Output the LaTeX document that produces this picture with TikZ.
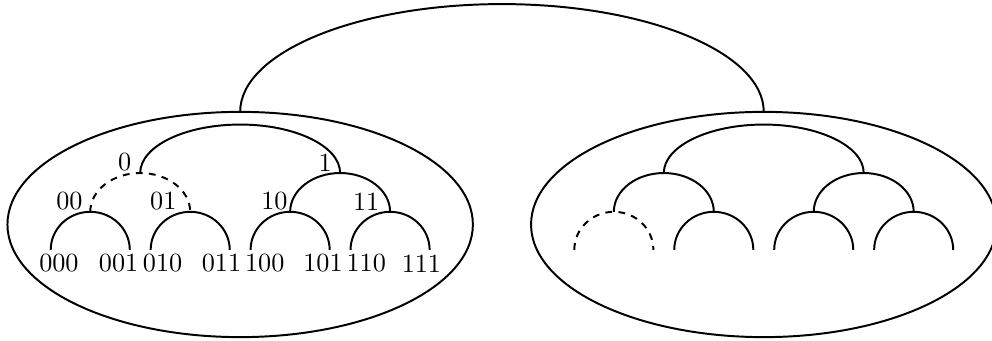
\documentclass[tikz,border=0pt]{standalone}
\usetikzlibrary{shapes.geometric}

\begin{document}
\begin{tikzpicture}[
    line/.style={line width=0.75pt},
    gap/.style={line width=0.75pt, dash pattern=on 2.6pt off 2.4pt},
    blob/.style={ellipse, draw, line width=0.75pt, outer sep=0pt, inner sep=0pt,
      minimum width=6.24cm, minimum height=3.02cm},
    lbl/.style={inner sep=0pt}
  ]
  \useasboundingbox (-3.22,-1.56) rectangle (10.08,3.01);

  % the two halves and the link between them
  \node[blob] (left) at (0,0) {};
  \node[blob] (right) at (7.02,0) {};
  \draw[line] (left.north) arc[start angle=180, end angle=0, x radius=3.51, y radius=1.445];

  % left tree, with its labels
  \coordinate (v0) at (-1.34,0.69);
  \coordinate (v1) at (1.34,0.69);
  \coordinate (v00) at (-2.01,0.17);
  \coordinate (v01) at (-0.67,0.17);
  \coordinate (v10) at (0.67,0.17);
  \coordinate (v11) at (2.01,0.17);
  \coordinate (v000) at (-2.54,-0.34);
  \coordinate (v010) at (-1.20,-0.34);
  \coordinate (v100) at (0.14,-0.34);
  \coordinate (v110) at (1.48,-0.34);
  \draw[line] (v0) arc[start angle=180, end angle=0, x radius=1.34, y radius=0.65];
  \draw[gap] (v00) arc[start angle=180, end angle=0, x radius=0.67, y radius=0.52];
  \draw[line] (v10) arc[start angle=180, end angle=0, x radius=0.67, y radius=0.52];
  \draw[line] (v000) arc[start angle=180, end angle=0, x radius=0.53, y radius=0.51];
  \draw[line] (v010) arc[start angle=180, end angle=0, x radius=0.53, y radius=0.51];
  \draw[line] (v100) arc[start angle=180, end angle=0, x radius=0.53, y radius=0.51];
  \draw[line] (v110) arc[start angle=180, end angle=0, x radius=0.53, y radius=0.51];
  \node[lbl] (t0) at (-1.55,0.84) {0};
  \node[lbl] (t1) at (1.14,0.83) {1};
  \node[lbl] (t00) at (-2.29,0.31) {00};
  \node[lbl] (t01) at (-1.03,0.31) {01};
  \node[lbl] (t10) at (0.46,0.31) {10};
  \node[lbl] (t11) at (1.69,0.31) {11};
  \node[lbl] (t000) at (-2.43,-0.52) {000};
  \node[lbl] (t001) at (-1.63,-0.52) {001};
  \node[lbl] (t010) at (-1.04,-0.52) {010};
  \node[lbl] (t011) at (-0.25,-0.52) {011};
  \node[lbl] (t100) at (0.33,-0.52) {100};
  \node[lbl] (t101) at (1.11,-0.52) {101};
  \node[lbl] (t110) at (1.69,-0.52) {110};
  \node[lbl] (t111) at (2.43,-0.52) {111};

  % right tree, no labels
  \begin{scope}[xshift=7.02cm]
    \coordinate (w0) at (-1.34,0.69);
    \coordinate (w00) at (-2.01,0.17);
    \coordinate (w10) at (0.67,0.17);
    \coordinate (w000) at (-2.54,-0.34);
    \coordinate (w010) at (-1.20,-0.34);
    \coordinate (w100) at (0.14,-0.34);
    \coordinate (w110) at (1.48,-0.34);
    \draw[line] (w0) arc[start angle=180, end angle=0, x radius=1.34, y radius=0.65];
    \draw[line] (w00) arc[start angle=180, end angle=0, x radius=0.67, y radius=0.52];
    \draw[line] (w10) arc[start angle=180, end angle=0, x radius=0.67, y radius=0.52];
    \draw[gap] (w000) arc[start angle=180, end angle=0, x radius=0.53, y radius=0.51];
    \draw[line] (w010) arc[start angle=180, end angle=0, x radius=0.53, y radius=0.51];
    \draw[line] (w100) arc[start angle=180, end angle=0, x radius=0.53, y radius=0.51];
    \draw[line] (w110) arc[start angle=180, end angle=0, x radius=0.53, y radius=0.51];
  \end{scope}
\end{tikzpicture}
\end{document}
